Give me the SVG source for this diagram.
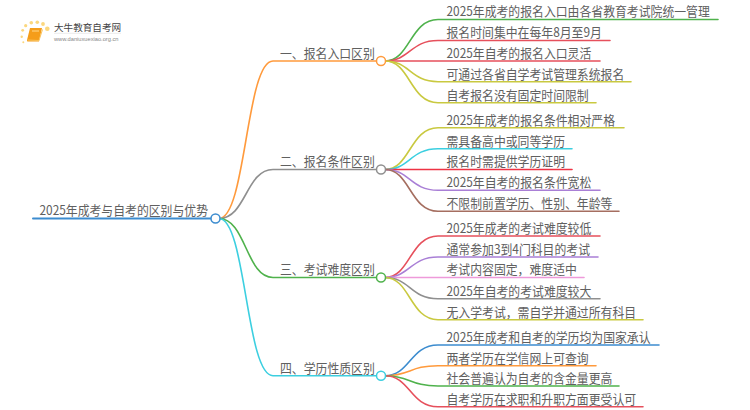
<svg xmlns="http://www.w3.org/2000/svg" width="750" height="410" viewBox="0 0 750 410">
<style>
text{font-family:"Noto Sans CJK SC","Liberation Sans",sans-serif;font-size:12.9px;fill:#606060;font-weight:400;transform-box:fill-box;transform-origin:0 100%;transform:scaleX(.92)}
.c{fill:none;stroke-width:1.6;stroke-linecap:round}
.n{fill:#fff;stroke-width:1.5}
.or{stroke:#ff9a3c}.gy{stroke:#8f8f8f}.gn{stroke:#4fb24c}.cy{stroke:#3ccfe0}.bl{stroke:#3c8ccf}
.rd{stroke:#e6505c}.ye{stroke:#c9c940}.pu{stroke:#a97fd6}.br{stroke:#a56e60}.pk{stroke:#ee9ada}.re{stroke:#ee3344}
</style>
<rect width="750" height="410" fill="#fff"/>
<g id="logo">
<g fill="#fbd77e"><circle cx="47.3" cy="28.7" r="2.3"/><circle cx="43" cy="24" r="1.9"/><circle cx="37.3" cy="22.3" r="1.8"/><circle cx="31.3" cy="22.7" r="1.8"/><circle cx="25.7" cy="25.7" r="1.6"/><circle cx="22.7" cy="30.3" r="1.4"/><circle cx="21.7" cy="36.7" r="1.2"/><circle cx="23.3" cy="42.3" r="1"/></g>
<path d="M30 28H42L39 41.5H28Q26.500 41.500 27 40Z" fill="#f59d1a"/>
<path d="M27.500 40L39 40.500L42.500 29.500" fill="none" stroke="#f9c35c" stroke-width="1"/>
<path d="M32 31H39" stroke="#ffd98c" stroke-width="1"/>
<text x="54" y="31" style="font-size:9.600px;fill:#444;transform:none">大牛教育自考网</text>
<path d="M54 33.300H121" stroke="#ddd" stroke-width=".6"/>
<text x="54" y="41" style="font-size:5.700px;fill:#888;font-family:'Liberation Sans',sans-serif;transform:none">www.daniuxuexiao.org.cn</text>
</g>
<g id="connectors">
<path class="c bl" style="stroke-width:2" d="M33 218.500H211"/>
<path class="c or" d="M219 218.500C246 218.500 246 61 273 61H377"/>
<path class="c gy" d="M219 218.500C246 218.500 246 169.500 273 169.500H377"/>
<path class="c gn" d="M219 218.500C246 218.500 246 277.500 273 277.500H377"/>
<path class="c cy" d="M219 218.500C246 218.500 246 375.700 273 375.700H377"/>
<path class="c gn" d="M385 61C410 61 410 19.500 438 19.500H718"/>
<path class="c rd" d="M385 61C410 61 410 40.500 438 40.500H610"/>
<path class="c rd" d="M385 61H600"/>
<path class="c ye" d="M385 61C410 61 410 81.700 438 81.700H631"/>
<path class="c ye" d="M385 61C410 61 410 102.700 438 102.700H596"/>
<path class="c ye" d="M385 169.500C410 169.500 410 127.700 438 127.700H624"/>
<path class="c cy" d="M385 169.500C410 169.500 410 148.700 438 148.700H572"/>
<path class="c re" d="M385 169.500H572"/>
<path class="c pu" d="M385 169.500C410 169.500 410 190.300 438 190.300H600"/>
<path class="c br" d="M385 169.500C410 169.500 410 211.300 438 211.300H619"/>
<path class="c rd" d="M385 277.500C410 277.500 410 236 438 236H600"/>
<path class="c pu" d="M385 277.500C410 277.500 410 257 438 257H598"/>
<path class="c pk" d="M385 277.500H584"/>
<path class="c gy" d="M385 277.500C410 277.500 410 298.700 438 298.700H600"/>
<path class="c ye" d="M385 277.500C410 277.500 410 319.700 438 319.700H643"/>
<path class="c bl" d="M385 375.700C410 375.700 410 345 438 345H659"/>
<path class="c or" d="M385 375.700C410 375.700 410 365.700 438 365.700H596"/>
<path class="c gn" d="M385 375.700C410 375.700 410 386 438 386H619"/>
<path class="c rd" d="M385 375.700C410 375.700 410 406.700 438 406.700H643"/>
</g>
<g id="root"><text x="39.500" y="215.500">2025年成考与自考的区别与优势</text><circle class="n bl" cx="215.500" cy="218.500" r="4.500"/></g>
<g id="b1"><text x="280" y="58">一、报名入口区别</text><circle class="n or" cx="381" cy="61" r="4.500"/></g>
<g id="b2"><text x="280" y="166.500">二、报名条件区别</text><circle class="n gy" cx="381" cy="169.500" r="4.500"/></g>
<g id="b3"><text x="280" y="274.500">三、考试难度区别</text><circle class="n gn" cx="381" cy="277.500" r="4.500"/></g>
<g id="b4"><text x="280" y="372.700">四、学历性质区别</text><circle class="n cy" cx="381" cy="375.700" r="4.500"/></g>
<g id="l11"><text x="446.500" y="16.500">2025年成考的报名入口由各省教育考试院统一管理</text></g>
<g id="l12"><text x="446.500" y="37.500">报名时间集中在每年8月至9月</text></g>
<g id="l13"><text x="446.500" y="58">2025年自考的报名入口灵活</text></g>
<g id="l14"><text x="446.500" y="78.700">可通过各省自学考试管理系统报名</text></g>
<g id="l15"><text x="446.500" y="99.700">自考报名没有固定时间限制</text></g>
<g id="l21"><text x="446.500" y="124.700">2025年成考的报名条件相对严格</text></g>
<g id="l22"><text x="446.500" y="145.700">需具备高中或同等学历</text></g>
<g id="l23"><text x="446.500" y="166.500">报名时需提供学历证明</text></g>
<g id="l24"><text x="446.500" y="187.300">2025年自考的报名条件宽松</text></g>
<g id="l25"><text x="446.500" y="208.300">不限制前置学历、性别、年龄等</text></g>
<g id="l31"><text x="446.500" y="233">2025年成考的考试难度较低</text></g>
<g id="l32"><text x="446.500" y="254">通常参加3到4门科目的考试</text></g>
<g id="l33"><text x="446.500" y="274.500">考试内容固定，难度适中</text></g>
<g id="l34"><text x="446.500" y="295.700">2025年自考的考试难度较大</text></g>
<g id="l35"><text x="446.500" y="316.700">无入学考试，需自学并通过所有科目</text></g>
<g id="l41"><text x="446.500" y="342">2025年成考和自考的学历均为国家承认</text></g>
<g id="l42"><text x="446.500" y="362.700">两者学历在学信网上可查询</text></g>
<g id="l43"><text x="446.500" y="383">社会普遍认为自考的含金量更高</text></g>
<g id="l44"><text x="446.500" y="403.700">自考学历在求职和升职方面更受认可</text></g>
</svg>
